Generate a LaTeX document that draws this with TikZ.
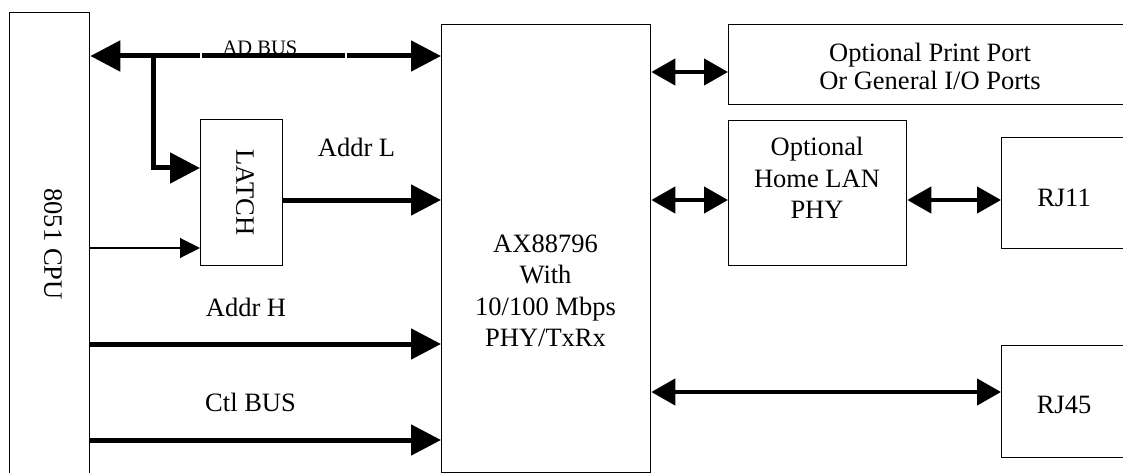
\documentclass[tikz,border=0pt]{standalone}
\usepackage{fontspec}
\setmainfont{Liberation Serif}
\usetikzlibrary{arrows.meta}
\tikzset{
  box/.style={draw, line width=1.3pt, inner sep=0pt, anchor=north west},
  lbl/.style={inner sep=0pt, font=\fontsize{26.5}{31}\selectfont, align=center},
  bigtip/.tip={Triangle[length=30pt,width=30pt]},
  medtip/.tip={Triangle[length=24pt,width=26pt]},
  smalltip/.tip={Triangle[length=20pt,width=20pt]},
  bus/.style={line width=5pt, line join=miter, -bigtip},
  dbus/.style={line width=5pt, bigtip-bigtip},
  mbus/.style={line width=4.5pt, medtip-medtip},
  thinarrow/.style={line width=1.1pt, -smalltip},
}
\begin{document}
\begin{tikzpicture}[x=1pt,y=-1pt]
\useasboundingbox (0,0) rectangle (1123,473);
\clip (0,0) rectangle (1123,473);
\fill[white] (0,0) rectangle (1123,473);

% boxes
\node[box, minimum width=80pt, minimum height=480pt] (cpu) at (9,12) {};
\node[box, minimum width=209pt, minimum height=447.5pt] (main) at (441,24) {};
\node[box, minimum width=82pt, minimum height=146pt] (latch) at (200,119) {};
\node[box, minimum width=420pt, minimum height=80pt] (pp) at (728,24) {};
\node[box, minimum width=178pt, minimum height=145pt] (phy) at (728,120) {};
\node[box, minimum width=150pt, minimum height=111pt] (rj11) at (1001,137) {};
\node[box, minimum width=150pt, minimum height=112pt] (rj45) at (1001,345) {};

% labels
\node[lbl, rotate=-90] (cpulbl) at (53,244) {8051 CPU};
\node[lbl, rotate=-90] (latchlbl) at (245,192.5) {LATCH};
\node[inner sep=0pt, anchor=base, font=\fontsize{20.5}{24}\selectfont] (adlbl) at (260,55) {AD BUS};
\node[lbl, anchor=base] (addrl) at (356.5,157) {Addr L};
\node[lbl, anchor=base] (addrh) at (246,316.5) {Addr H};
\node[lbl, anchor=base] (ctl) at (250.5,411.5) {Ctl BUS};
\node[lbl, anchor=base] (ax1) at (545.5,252) {AX88796};
\node[lbl, anchor=base] (ax2) at (545.5,283) {With};
\node[lbl, anchor=base] (ax3) at (545.5,315) {10/100 Mbps};
\node[lbl, anchor=base] (ax4) at (545.5,346) {PHY/TxRx};
\node[lbl, anchor=base] (pp1) at (930,62) {Optional Print Port};
\node[lbl, anchor=base] (pp2) at (930,90) {Or General I/O Ports};
\node[lbl, anchor=base] (phy1) at (817,156) {Optional};
\node[lbl, anchor=base] (phy2) at (817,187.5) {Home LAN};
\node[lbl, anchor=base] (phy3) at (817,218.5) {PHY};
\node[lbl] (rj11lbl) at (1064,198) {RJ11};
\node[lbl] (rj45lbl) at (1064,405) {RJ45};

% row coordinates
\coordinate (yad) at (0,56);
\coordinate (br) at (153,56);
\coordinate (brd) at (153,168);
\coordinate (yl) at (0,200);
\coordinate (ylin) at (0,248);
\coordinate (yh) at (0,344);
\coordinate (yc) at (0,440);
\coordinate (ypp) at (0,72);
\coordinate (yphy) at (0,200);
\coordinate (yrj45) at (0,392);

% connectors
\draw[dbus] (cpu.east |- yad) -- (main.west |- yad);
\draw[white, line width=1.6pt] (201,50) -- (201,62);
\draw[white, line width=1.6pt] (346,50) -- (346,62);
\draw[bus] (br) -- (brd) -- (latch.west |- brd);
\draw[bus] (latch.east |- yl) -- (main.west |- yl);
\draw[thinarrow] (cpu.east |- ylin) -- (latch.west |- ylin);
\draw[bus] (cpu.east |- yh) -- (main.west |- yh);
\draw[bus] (cpu.east |- yc) -- (main.west |- yc);
\draw[mbus] (main.east |- ypp) -- (pp.west |- ypp);
\draw[mbus] (main.east |- yphy) -- (phy.west |- yphy);
\draw[mbus] (phy.east |- yphy) -- (rj11.west |- yphy);
\draw[mbus] (main.east |- yrj45) -- (rj45.west |- yrj45);
\end{tikzpicture}
\end{document}
